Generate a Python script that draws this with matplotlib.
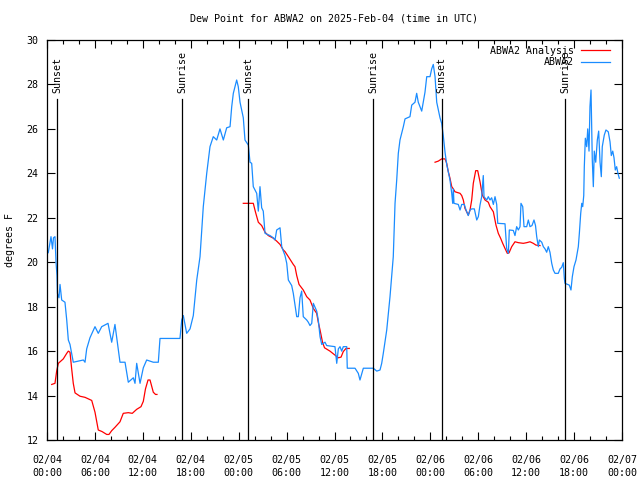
import numpy as np
import matplotlib
matplotlib.use("Agg")
import matplotlib.pyplot as plt

title = "Dew Point for ABWA2 on 2025-Feb-04 (time in UTC)"
ylabel = "degrees F"

# hours since 02/04 00:00 UTC
obs_hours = [0.16, 0.38, 0.50, 0.69, 0.81, 1.00, 1.13, 1.25, 1.31, 1.50, 1.63, 1.84, 2.25, 2.47, 2.67, 2.88,
             3.29, 4.55, 4.76, 4.97, 5.38, 6.01, 6.42, 6.85, 7.64, 8.10, 8.51, 8.93, 9.14, 9.77, 10.18, 10.81,
             11.02, 11.23, 11.65, 12.06, 12.48, 13.31, 13.94, 14.15, 16.65, 16.87, 17.07, 17.49, 17.91, 18.32,
             18.75, 19.16, 19.57, 20.00, 20.41, 20.82, 21.25, 21.66, 22.08, 22.50, 22.92, 23.13, 23.33, 23.75,
             23.95, 24.17, 24.58, 24.79, 25.21, 25.42, 25.63, 25.83, 26.26, 26.46, 26.67, 26.88, 27.08, 27.30,
             27.92, 28.34, 28.55, 28.76, 29.18, 29.39, 29.59, 29.80, 30.02, 30.22, 30.64, 30.84, 31.27, 31.47,
             31.68, 31.89, 32.09, 32.52, 32.72, 32.93, 33.15, 33.35, 33.77, 33.97, 34.19, 34.40, 34.81, 35.02,
             36.06, 36.28, 36.48, 36.69, 36.90, 37.10, 37.53, 37.60, 38.57, 38.98, 39.19, 39.61, 40.86, 41.29,
             41.70, 41.91, 42.11, 42.54, 42.95, 43.36, 43.58, 43.79, 43.99, 44.20, 44.62, 44.83, 45.45, 45.67,
             46.08, 46.29, 46.49, 46.92, 47.33, 47.55, 47.96, 48.17, 48.37, 48.59, 48.80, 49.21, 49.42, 49.62,
             49.84, 50.05, 50.25, 50.46, 50.68, 50.80, 50.88, 50.96, 51.50, 51.72, 51.93, 52.25, 52.47, 52.75,
             52.97, 53.18, 53.51, 53.81, 54.01, 54.22, 54.43, 54.63, 54.72, 55.06, 55.26, 55.47, 55.68, 55.89,
             56.10, 56.31, 56.44, 57.35, 57.56, 57.77, 57.89, 58.39, 58.60, 58.81, 59.02, 59.23, 59.35, 59.57,
             59.73, 60.07, 60.27, 60.48, 60.73, 60.98, 61.17, 61.32, 61.52, 61.65, 61.95, 62.15, 62.36, 62.57,
             62.77, 62.98, 63.20, 63.40, 63.61, 64.02, 64.24, 64.45, 64.65, 64.78, 64.86, 65.40, 65.61, 65.78,
             65.99, 66.24, 66.53, 66.66, 66.83, 66.96, 67.08, 67.21, 67.28, 67.41, 67.58, 67.71, 67.87, 67.99,
             68.12, 68.28, 68.41, 68.53, 68.71, 68.91, 69.08, 69.25, 69.41, 69.53, 69.78, 69.99, 70.28, 70.50,
             70.66, 70.84, 71.00, 71.16, 71.33, 71.49, 71.66]
obs_values = [20.43, 20.9, 21.15, 20.6, 21.1, 21.15, 20.0, 19.4, 18.6, 18.4, 19.0, 18.3, 18.2, 17.4, 16.5, 16.3,
              15.5, 15.6, 15.5, 16.1, 16.6, 17.1, 16.8, 17.1, 17.25, 16.4, 17.2, 16.05, 15.5, 15.5, 14.6, 14.8,
              14.55, 15.45, 14.55, 15.25, 15.6, 15.5, 15.5, 16.57, 16.57, 17.4, 17.6, 16.8, 17.0, 17.6,
              19.2, 20.25, 22.5, 24.0, 25.2, 25.65, 25.5, 26.0, 25.5, 26.05, 26.1, 27.0, 27.6, 28.2,
              27.9, 27.2, 26.5, 25.5, 25.27, 24.5, 24.45, 23.4, 23.1, 22.3, 23.4, 22.45, 22.3, 21.3,
              21.2, 21.1, 21.0, 21.45, 21.55, 20.7, 20.5, 20.3, 19.95, 19.2, 18.95, 18.6, 17.55, 17.55,
              18.4, 18.7, 17.55, 17.4, 17.3, 17.15, 17.25, 18.15, 17.8, 17.4, 16.65, 16.3, 16.4, 16.25,
              16.2, 15.45, 16.1, 16.2, 16.0, 16.2, 16.2, 15.23, 15.23, 15.0, 14.7, 15.23, 15.23, 15.1,
              15.15, 15.45, 15.9, 16.95, 18.45, 20.25, 22.65, 23.7, 24.9, 25.5, 26.1, 26.45, 26.55, 27.07,
              27.2, 27.6, 27.2, 26.8, 27.65, 28.35, 28.35, 28.7, 28.9, 28.35, 27.2, 26.5, 26.25, 25.7,
              24.95, 24.4, 24.07, 23.7, 23.1, 22.65, 23.3, 22.65, 22.6, 22.35, 22.6, 22.6, 22.35, 22.1,
              22.35, 22.4, 22.4, 21.9, 22.05, 22.57, 22.95, 23.9, 22.95, 22.8, 22.95, 22.8, 22.9, 22.6,
              22.95, 22.6, 21.75, 21.73, 20.62, 20.4, 21.45, 21.43, 21.2, 21.6, 21.45, 21.6, 22.65, 22.5,
              21.6, 21.6, 21.9, 21.6, 21.65, 21.9, 21.65, 21.15, 20.7, 21.0, 20.9, 20.7, 20.6, 20.45,
              20.7, 20.45, 19.95, 19.65, 19.5, 19.5, 19.7, 19.77, 19.98, 19.27, 19.05, 18.97, 18.75, 19.35,
              19.8, 20.1, 20.7, 21.3, 22.2, 22.65, 22.5, 23.0, 24.3, 25.58, 25.2, 26.0, 25.0, 27.0,
              27.75, 24.6, 23.4, 25.0, 24.5, 25.5, 25.9, 24.5, 23.85, 25.2, 25.72, 25.95, 25.87, 25.42,
              24.8, 25.0, 24.7, 24.15, 24.3, 24.0, 23.78]

nan = float("nan")
ana_hours = [0.59, 1.00, 1.21, 1.42, 2.04, 2.47, 2.67, 2.88, 3.09, 3.29, 3.51, 4.13, 4.76, 5.60, 6.01, 6.42,
             6.89, 7.48, 7.76, 8.10, 8.51, 9.14, 9.55, 10.18, 10.68, 11.23, 11.77, 12.06, 12.33, 12.65, 12.90,
             13.31, 13.59, 13.77, nan,
             24.58, 25.83, 26.11, 26.46, 26.88, 27.30, 27.71, 28.34, 28.76, 29.18, 29.59, 29.80, 30.22, 30.84,
             31.05, 31.27, 31.56, 32.09, 32.52, 32.93, 33.35, 33.77, 33.97, 34.19, 34.50, 34.75, 35.43, 36.06,
             36.48, 36.82, 37.10, 37.44, 37.85, nan,
             48.59, 49.00, 49.42, 49.84, 50.05, 50.25, 50.46, 50.68, 50.88, 51.09, 51.72, 51.93, 52.13, 52.34,
             52.55, 52.75, 52.97, 53.18, 53.38, 53.68, 53.93, 54.22, 54.51, 54.85, 55.26, 55.47, 55.89, 56.22,
             56.51, 56.81, 57.06, 57.35, 57.64, 57.85, 58.19, 58.60, 59.02, 59.64, 60.07, 60.48, 60.89, 61.23,
             61.73]
ana_values = [14.5, 14.55, 15.1, 15.45, 15.65, 15.9, 16.0, 15.95, 15.2, 14.55, 14.12, 13.97, 13.92, 13.78, 13.25, 12.45,
              12.38, 12.25, 12.25, 12.42, 12.57, 12.82, 13.2, 13.23, 13.2, 13.38, 13.5, 13.74, 14.3, 14.7, 14.7,
              14.15, 14.05, 14.05, nan,
              22.65, 22.65, 22.25, 21.8, 21.65, 21.35, 21.2, 21.08, 20.95, 20.8, 20.55, 20.48, 20.25, 19.9,
              19.8, 19.4, 19.0, 18.75, 18.45, 18.3, 17.92, 17.7, 17.3, 16.95, 16.4, 16.15, 16.0, 15.82,
              15.7, 15.73, 15.98, 16.12, 16.12, nan,
              24.5, 24.55, 24.65, 24.65, 24.45, 24.07, 23.78, 23.4, 23.3, 23.17, 23.1, 23.0, 22.8, 22.42,
              22.27, 22.12, 22.35, 22.8, 23.55, 24.12, 24.12, 23.62, 23.02, 22.8, 22.7, 22.5, 22.27, 21.67,
              21.3, 21.07, 20.85, 20.62, 20.4, 20.42, 20.7, 20.92, 20.88, 20.85, 20.88, 20.92, 20.85, 20.77,
              20.75]

sun_hours = [1.29, 16.94, 25.21, 40.86, 49.42, 64.90]
sun_labels = ["Sunset", "Sunrise", "Sunset", "Sunrise", "Sunset", "Sunrise"]

xtick_hours = [0, 6, 12, 18, 24, 30, 36, 42, 48, 54, 60, 66, 72]
xtick_labels = ["02/04\n00:00", "02/04\n06:00", "02/04\n12:00", "02/04\n18:00",
                "02/05\n00:00", "02/05\n06:00", "02/05\n12:00", "02/05\n18:00",
                "02/06\n00:00", "02/06\n06:00", "02/06\n12:00", "02/06\n18:00",
                "02/07\n00:00"]
yticks = [12, 14, 16, 18, 20, 22, 24, 26, 28, 30]

FONT = "DejaVu Sans Mono"
FS = 7.2
plt.rcParams["font.family"] = FONT
plt.rcParams["font.size"] = FS

fig = plt.figure(figsize=(6.4, 4.8), dpi=100)
ax = fig.add_axes([47 / 640, 40 / 480, 575 / 640, 400 / 480])

RED = "#ff0000"
BLUE = "#1a8cff"

ax.plot(ana_hours, ana_values, color=RED, lw=0.9, label="ABWA2 Analysis")
ax.plot(obs_hours, obs_values, color=BLUE, lw=0.9, label="ABWA2")

for h, lab in zip(sun_hours, sun_labels):
    ax.plot([h, h], [12, 27.35], color="black", lw=0.9)
    ax.text(h, 27.62, lab, rotation=90, ha="center", va="bottom", fontsize=FS)

ax.set_xlim(0, 72)
ax.set_ylim(12, 30)
ax.set_xticks(xtick_hours)
ax.set_xticklabels(xtick_labels, linespacing=1.45)
ax.set_xticks(np.arange(0, 73, 2), minor=True)
ax.set_yticks(yticks)
ax.tick_params(axis="both", which="both", direction="in", top=True, right=True,
               labelsize=FS, width=0.8)
ax.tick_params(axis="both", which="major", length=6)
ax.tick_params(axis="x", which="minor", length=3)
ax.tick_params(axis="x", which="major", pad=10.5)
ax.tick_params(axis="y", which="major", pad=6)
for s in ax.spines.values():
    s.set_linewidth(0.9)

ax.set_title(title, fontsize=FS, pad=13)
ax.set_ylabel(ylabel, fontsize=FS)
ax.yaxis.set_label_coords(-32 / 575, 0.5)

ax.legend(loc="upper right", bbox_to_anchor=(1 - 12 / 575, 1 - 6 / 400),
          frameon=False, markerfirst=False, fontsize=FS, handlelength=2.9,
          handletextpad=0.7, labelspacing=0.12, borderaxespad=0, borderpad=0)

fig.savefig("out.png", dpi=100)
